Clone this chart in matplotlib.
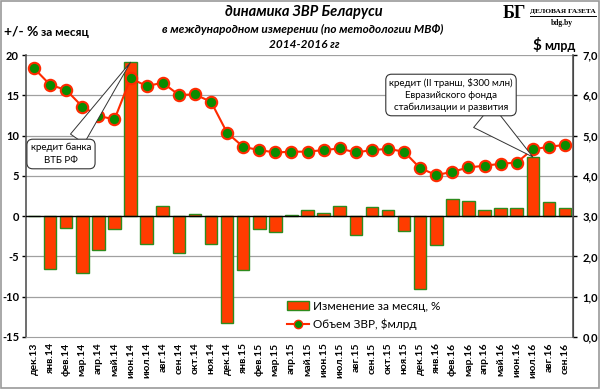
import numpy as np
import matplotlib
matplotlib.use("Agg")
import matplotlib.pyplot as plt
from matplotlib.patches import Rectangle
from matplotlib.lines import Line2D

plt.rcParams['font.family'] = ['Lato', 'DejaVu Sans']

months = ["дек.13", "янв.14", "фев.14", "мар.14", "апр.14", "май.14", "июн.14", "июл.14",
          "авг.14", "сен.14", "окт.14", "ноя.14", "дек.14", "янв.15", "фев.15", "мар.15",
          "апр.15", "май.15", "июн.15", "июл.15", "авг.15", "сен.15", "окт.15", "ноя.15",
          "дек.15", "янв.16", "фев.16", "мар.16", "апр.16", "май.16", "июн.16", "июл.16",
          "авг.16", "сен.16"]
change_pct = [0.0, -6.5, -1.5, -7.1, -4.2, -1.65, 19.1, -3.4,
              1.3, -4.6, 0.3, -3.5, -13.3, -6.7, -1.65, -2.0,
              0.2, 0.75, 0.35, 1.3, -2.35, 1.1, 0.8, -1.85,
              -9.0, -3.6, 2.1, 1.85, 0.8, 1.0, 0.95, 7.35,
              1.75, 0.95]
reserves = [6.67, 6.26, 6.13, 5.72, 5.49, 5.40, 6.42, 6.23,
            6.31, 6.01, 6.02, 5.84, 5.07, 4.72, 4.64, 4.58,
            4.60, 4.60, 4.64, 4.68, 4.58, 4.64, 4.67, 4.60,
            4.19, 4.02, 4.10, 4.21, 4.25, 4.30, 4.33, 4.66,
            4.72, 4.77]

bar_face = "#FF3C00"
bar_edge = "#2E8B1E"
line_col = "#FF2A00"
marker_face = "#0A8C00"

fig = plt.figure(figsize=(6.0, 3.89), dpi=100)
fig.patches.append(Rectangle((0.002, 0.002), 0.996, 0.996, transform=fig.transFigure,
                             fill=False, ec="#9a9a9a", lw=1.2))

ax = fig.add_axes([0.0433, 0.1337, 0.9117, 0.7249])
x = np.arange(len(months))
ax.bar(x, change_pct, width=0.78, color=bar_face, edgecolor=bar_edge, lw=1.0, zorder=3)
ax.axhline(0, color="black", lw=1.0, zorder=4)
ax.set_ylim(-15, 20)
ax.set_xlim(-0.5, len(months) - 0.5)
ax.set_yticks(range(-15, 21, 5))
ax.set_yticklabels([str(v) for v in range(-15, 21, 5)], fontsize=8, fontweight="bold")
for v in [-10, -5, 5, 10, 15, 20]:
    ax.axhline(v, color="#a0a0a0", lw=0.9, zorder=1)
ax.set_xticks(x)
ax.set_xticklabels(months, rotation=90, fontsize=7.5, fontweight="bold")
ax.tick_params(axis="x", length=0, pad=4)
ax.tick_params(axis="y", length=3, width=1, pad=2)
ax.spines["top"].set_visible(False)
ax.spines["bottom"].set_color("#a0a0a0")
ax.spines["left"].set_color("#555555")
ax.spines["left"].set_linewidth(1.2)

ax2 = ax.twinx()
ax2.plot(x, reserves, color=line_col, lw=1.5, marker="o", ms=8.2,
         markerfacecolor=marker_face, markeredgecolor=line_col, markeredgewidth=1.5, zorder=5)
ax2.set_ylim(0, 7)
ax2.set_yticks(np.arange(0, 7.1, 1))
ax2.set_yticklabels([f"{v:.1f}".replace(".", ",") for v in np.arange(0, 7.1, 1)],
                    fontsize=8, fontweight="bold")
ax2.tick_params(axis="y", length=3, width=1, pad=4)
ax2.spines["top"].set_visible(False)
ax2.spines["right"].set_color("#555555")
ax2.spines["right"].set_linewidth(1.2)
ax2.spines["left"].set_visible(False)
ax2.spines["bottom"].set_visible(False)

# callouts
ax2.annotate("кредит банка\nВТБ РФ", xy=(6, 19.1 / 5 + 3), xycoords="data",
             xytext=(61 / 600, 1 - 154 / 389), textcoords="figure fraction",
             ha="center", va="center", fontsize=7, linespacing=1.5,
             bbox=dict(boxstyle="round,pad=0.4,rounding_size=0.6", fc="white", ec="#333333", lw=0.8),
             arrowprops=dict(arrowstyle="wedge,tail_width=1.7", fc="white", ec="#333333", lw=0.7,
                             shrinkA=0, shrinkB=0, relpos=(0.72, 1.0)),
             zorder=6)
ax2.annotate("кредит (II транш, $300 млн)\nЕвразийского фонда\nстабилизации и развития",
             xy=(31, 7.35 / 5 + 3), xycoords="data",
             xytext=(451 / 600, 1 - 95 / 389), textcoords="figure fraction",
             ha="center", va="center", fontsize=7, linespacing=1.45,
             bbox=dict(boxstyle="round,pad=0.35,rounding_size=0.6", fc="white", ec="#333333", lw=0.8),
             arrowprops=dict(arrowstyle="wedge,tail_width=3.0", fc="white", ec="#333333", lw=0.7,
                             shrinkA=0, shrinkB=0, relpos=(0.72, 0.0)),
             zorder=6)

handles = [Rectangle((0, 0), 1, 1, fc=bar_face, ec=bar_edge, lw=1.0),
           Line2D([], [], color=line_col, lw=1.5, marker="o", ms=6,
                  markerfacecolor=marker_face, markeredgecolor=line_col)]
leg = fig.legend(handles, ["Изменение за месяц, %", "Объем ЗВР, $млрд"],
                 loc="upper left", bbox_to_anchor=(282 / 600, 1 - 296 / 389),
                 frameon=False, fontsize=8.5, handlelength=1.9, handletextpad=0.3,
                 labelspacing=0.6, borderaxespad=0)

# titles
fig.text(0.507, 1 - 12 / 389, "динамика ЗВР Беларуси", ha="center", va="center",
         fontsize=10.5, fontweight="bold", style="italic")
fig.text(0.505, 1 - 29 / 389, "в международном измерении (по методологии МВФ)", ha="center",
         va="center", fontsize=8.5, fontweight="bold", style="italic")
fig.text(0.507, 1 - 45 / 389, "2014-2016 гг", ha="center", va="center",
         fontsize=8.5, fontweight="bold", style="italic")
fig.text(4 / 600, 1 - 32 / 389, "+/- %", ha="left", va="center", fontsize=10, fontweight="bold")
fig.text(41 / 600, 1 - 33 / 389, "за месяц", ha="left", va="center", fontsize=8.5, fontweight="bold")
fig.text(532 / 600, 1 - 45 / 389, "$", ha="left", va="center", fontsize=11, fontweight="bold")
fig.text(544 / 600, 1 - 46 / 389, "млрд", ha="left", va="center", fontsize=9, fontweight="bold")

# logo
fig.text(514 / 600, 1 - 14 / 389, "БГ", ha="center", va="center", fontsize=13,
         fontweight="bold", family="Liberation Serif")
fig.text(563 / 600, 1 - 11 / 389, "ДЕЛОВАЯ ГАЗЕТА", ha="center", va="center", fontsize=5.3,
         fontweight="bold", family="Liberation Serif")
fig.add_artist(Line2D([530 / 600, 596 / 600], [1 - 16 / 389, 1 - 16 / 389], color="black", lw=0.7))
fig.text(562 / 600, 1 - 23 / 389, "bdg.by", ha="center", va="center", fontsize=5.5,
         fontweight="bold", family="Liberation Serif")

fig.savefig("out.png", dpi=100)
